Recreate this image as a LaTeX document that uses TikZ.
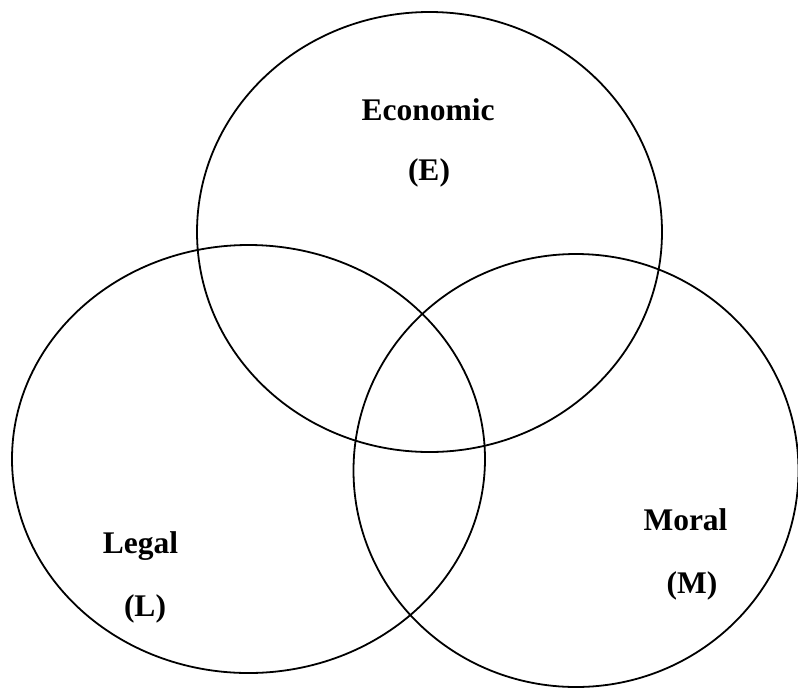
\documentclass[tikz,border=0pt]{standalone}
\usepackage{fontspec}
\setmainfont{Liberation Serif}
\begin{document}
\begin{tikzpicture}[x=1pt,y=-1pt,
  ring/.style={draw=black,line width=1.8pt},
  lbl/.style={font=\fontsize{31.5}{36}\selectfont\bfseries,inner sep=0pt,anchor=base}]
\useasboundingbox (0,0) rectangle (798,689);
\fill[white] (0,0) rectangle (798,689);
\draw[ring] (429.5,232) ellipse [x radius=232.5,y radius=220];
\draw[ring] (248.5,459) ellipse [x radius=236.5,y radius=214];
\draw[ring] (576,470.5) ellipse [x radius=222.5,y radius=216.5];
\node[lbl] (econ) at (428,120) {Economic};
\node[lbl] (econE) at (429,180) {(E)};
\node[lbl] (legal) at (140.5,553) {Legal};
\node[lbl] (legalL) at (145,616) {(L)};
\node[lbl] (moral) at (685.5,530) {Moral};
\node[lbl] (moralM) at (692,593) {(M)};
\end{tikzpicture}
\end{document}
